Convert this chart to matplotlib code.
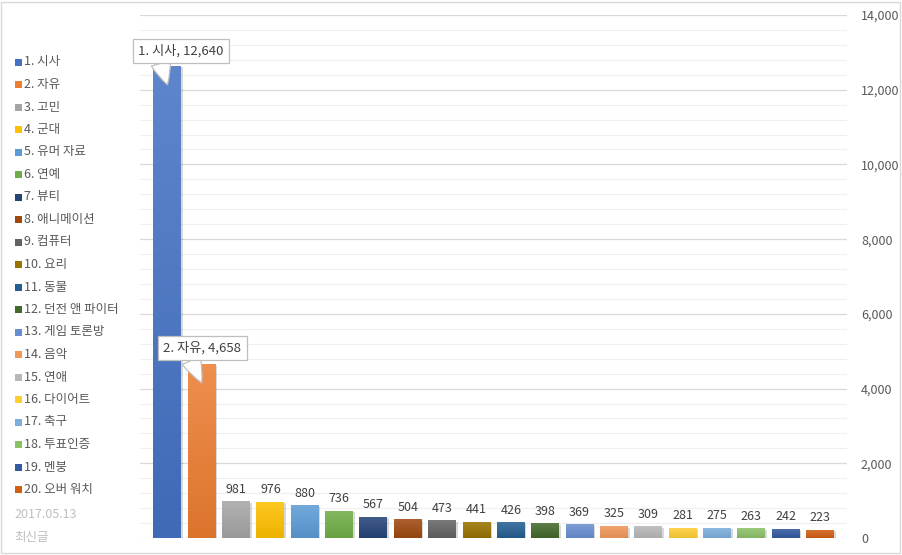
import matplotlib.pyplot as plt
import matplotlib.colors as mcolors
import matplotlib.patheffects as pe
from matplotlib.patches import Rectangle
from matplotlib.transforms import offset_copy
import numpy as np

plt.rcParams['font.family'] = ['Noto Sans CJK KR', 'DejaVu Sans']

boards = ['1. 시사', '2. 자유', '3. 고민', '4. 군대', '5. 유머 자료', '6. 연예', '7. 뷰티',
          '8. 애니메이션', '9. 컴퓨터', '10. 요리', '11. 동물', '12. 던전 앤 파이터',
          '13. 게임 토론방', '14. 음악', '15. 연애', '16. 다이어트', '17. 축구',
          '18. 투표인증', '19. 멘붕', '20. 오버 워치']
posts = [12640, 4658, 981, 976, 880, 736, 567, 504, 473, 441, 426, 398, 369,
         325, 309, 281, 275, 263, 242, 223]
colors = ['#4472C4', '#ED7D31', '#A5A5A5', '#FFC000', '#5B9BD5', '#70AD47', '#264478',
          '#9E480E', '#636363', '#997300', '#255E91', '#43682B', '#698ED0', '#F1975A',
          '#B7B7B7', '#FFCD33', '#7CAFDD', '#8CC168', '#335AA1', '#D26012']
callouts = [0, 1]
date_note = '2017.05.13'
sub_note = '최신글'

W, H = 903, 555
fig = plt.figure(figsize=(W / 100, H / 100), dpi=100)
ax = fig.add_axes([140 / W, 1 - 538 / H, (847 - 140) / W, 523 / H])

x = np.arange(len(posts))
bars = ax.bar(x, posts, width=0.815, color=colors, zorder=3,
              path_effects=[pe.SimplePatchShadow(offset=(1.2, -1.2), shadow_rgbFace='#000000', alpha=0.15),
                            pe.Normal()])

# vertical gradient on each bar
for b, c in zip(bars, colors):
    base = np.array(mcolors.to_rgb(c))
    top = base + (1 - base) * 0.14
    bot = base * 0.93
    t = np.linspace(0, 1, 64)[:, None]
    grad = (top[None, :] * (1 - t) + bot[None, :] * t).reshape(64, 1, 3)
    im = ax.imshow(grad, extent=[b.get_x(), b.get_x() + b.get_width(), 0, b.get_height()],
                   aspect='auto', zorder=4, interpolation='bilinear')
    im.set_clip_path(b)

ax.set_xlim(-0.8, 19.79)
ax.set_ylim(0, 14000)
ax.set_yticks(np.arange(0, 14001, 2000))
ax.set_yticks(np.arange(0, 14001, 400), minor=True)
ax.yaxis.tick_right()
ax.set_yticklabels([f'{v:,}' for v in range(0, 14001, 2000)])
ax.tick_params(axis='y', which='both', length=0, pad=10, labelsize=9, labelcolor='#595959')
for lab in ax.get_yticklabels():
    lab.set_horizontalalignment('left')
ax.set_xticks([])
ax.grid(axis='y', which='major', color='#d9d9d9', lw=0.9, zorder=0)
ax.grid(axis='y', which='minor', color='#f0f0f0', lw=0.9, zorder=0)
for s in ax.spines.values():
    s.set_visible(False)

# value labels
for i, v in enumerate(posts):
    if i in callouts:
        continue
    ax.annotate(f'{v:,}', (i, v), xytext=(0, 4), textcoords='offset points',
                ha='center', va='bottom', fontsize=9, color='#404040', zorder=5)

# callouts for the top two
offsets = {0: (13.5, 34), 1: (0.5, 35)}
anchors = {0: 0.23, 1: 0.3}
tip = offset_copy(ax.transData, fig=fig, x=0, y=-19, units='dots')
for i in callouts:
    ax.annotate(f'{boards[i]}, {posts[i]:,}', xy=(i, posts[i]), xycoords=tip,
                xytext=offsets[i], textcoords='offset pixels', ha='center', va='center',
                fontsize=9.5, color='#404040', zorder=6,
                bbox=dict(boxstyle='square,pad=0.4', fc='white', ec='#bfbfbf', lw=0.9),
                arrowprops=dict(arrowstyle='wedge,tail_width=1.5,shrink_factor=0.6',
                                relpos=(anchors[i], 0.3),
                                fc='white', ec='#bfbfbf', lw=0.9, shrinkA=0, shrinkB=0))

# legend on the left
for k, (lab, c) in enumerate(zip(boards, colors)):
    yc = 1 - (62 + k * 22.5) / H
    fig.patches.append(Rectangle((15 / W, yc - 3.5 / H), 7 / W, 7 / H, transform=fig.transFigure,
                                 fc=c, ec='none'))
    fig.text(24 / W, yc, lab, fontsize=9, color='#595959', va='center', ha='left')

fig.text(14 / W, 1 - 515 / H, date_note, fontsize=9, color='#bfbfbf', va='center')
fig.text(14 / W, 1 - 537 / H, sub_note, fontsize=9, color='#bfbfbf', va='center')

fig.patches.append(Rectangle((1.5 / W, 1 - 553 / H), 898.5 / W, 551.5 / H, transform=fig.transFigure,
                             fc='none', ec='#d9d9d9', lw=1))

fig.savefig('out.png', dpi=100)
